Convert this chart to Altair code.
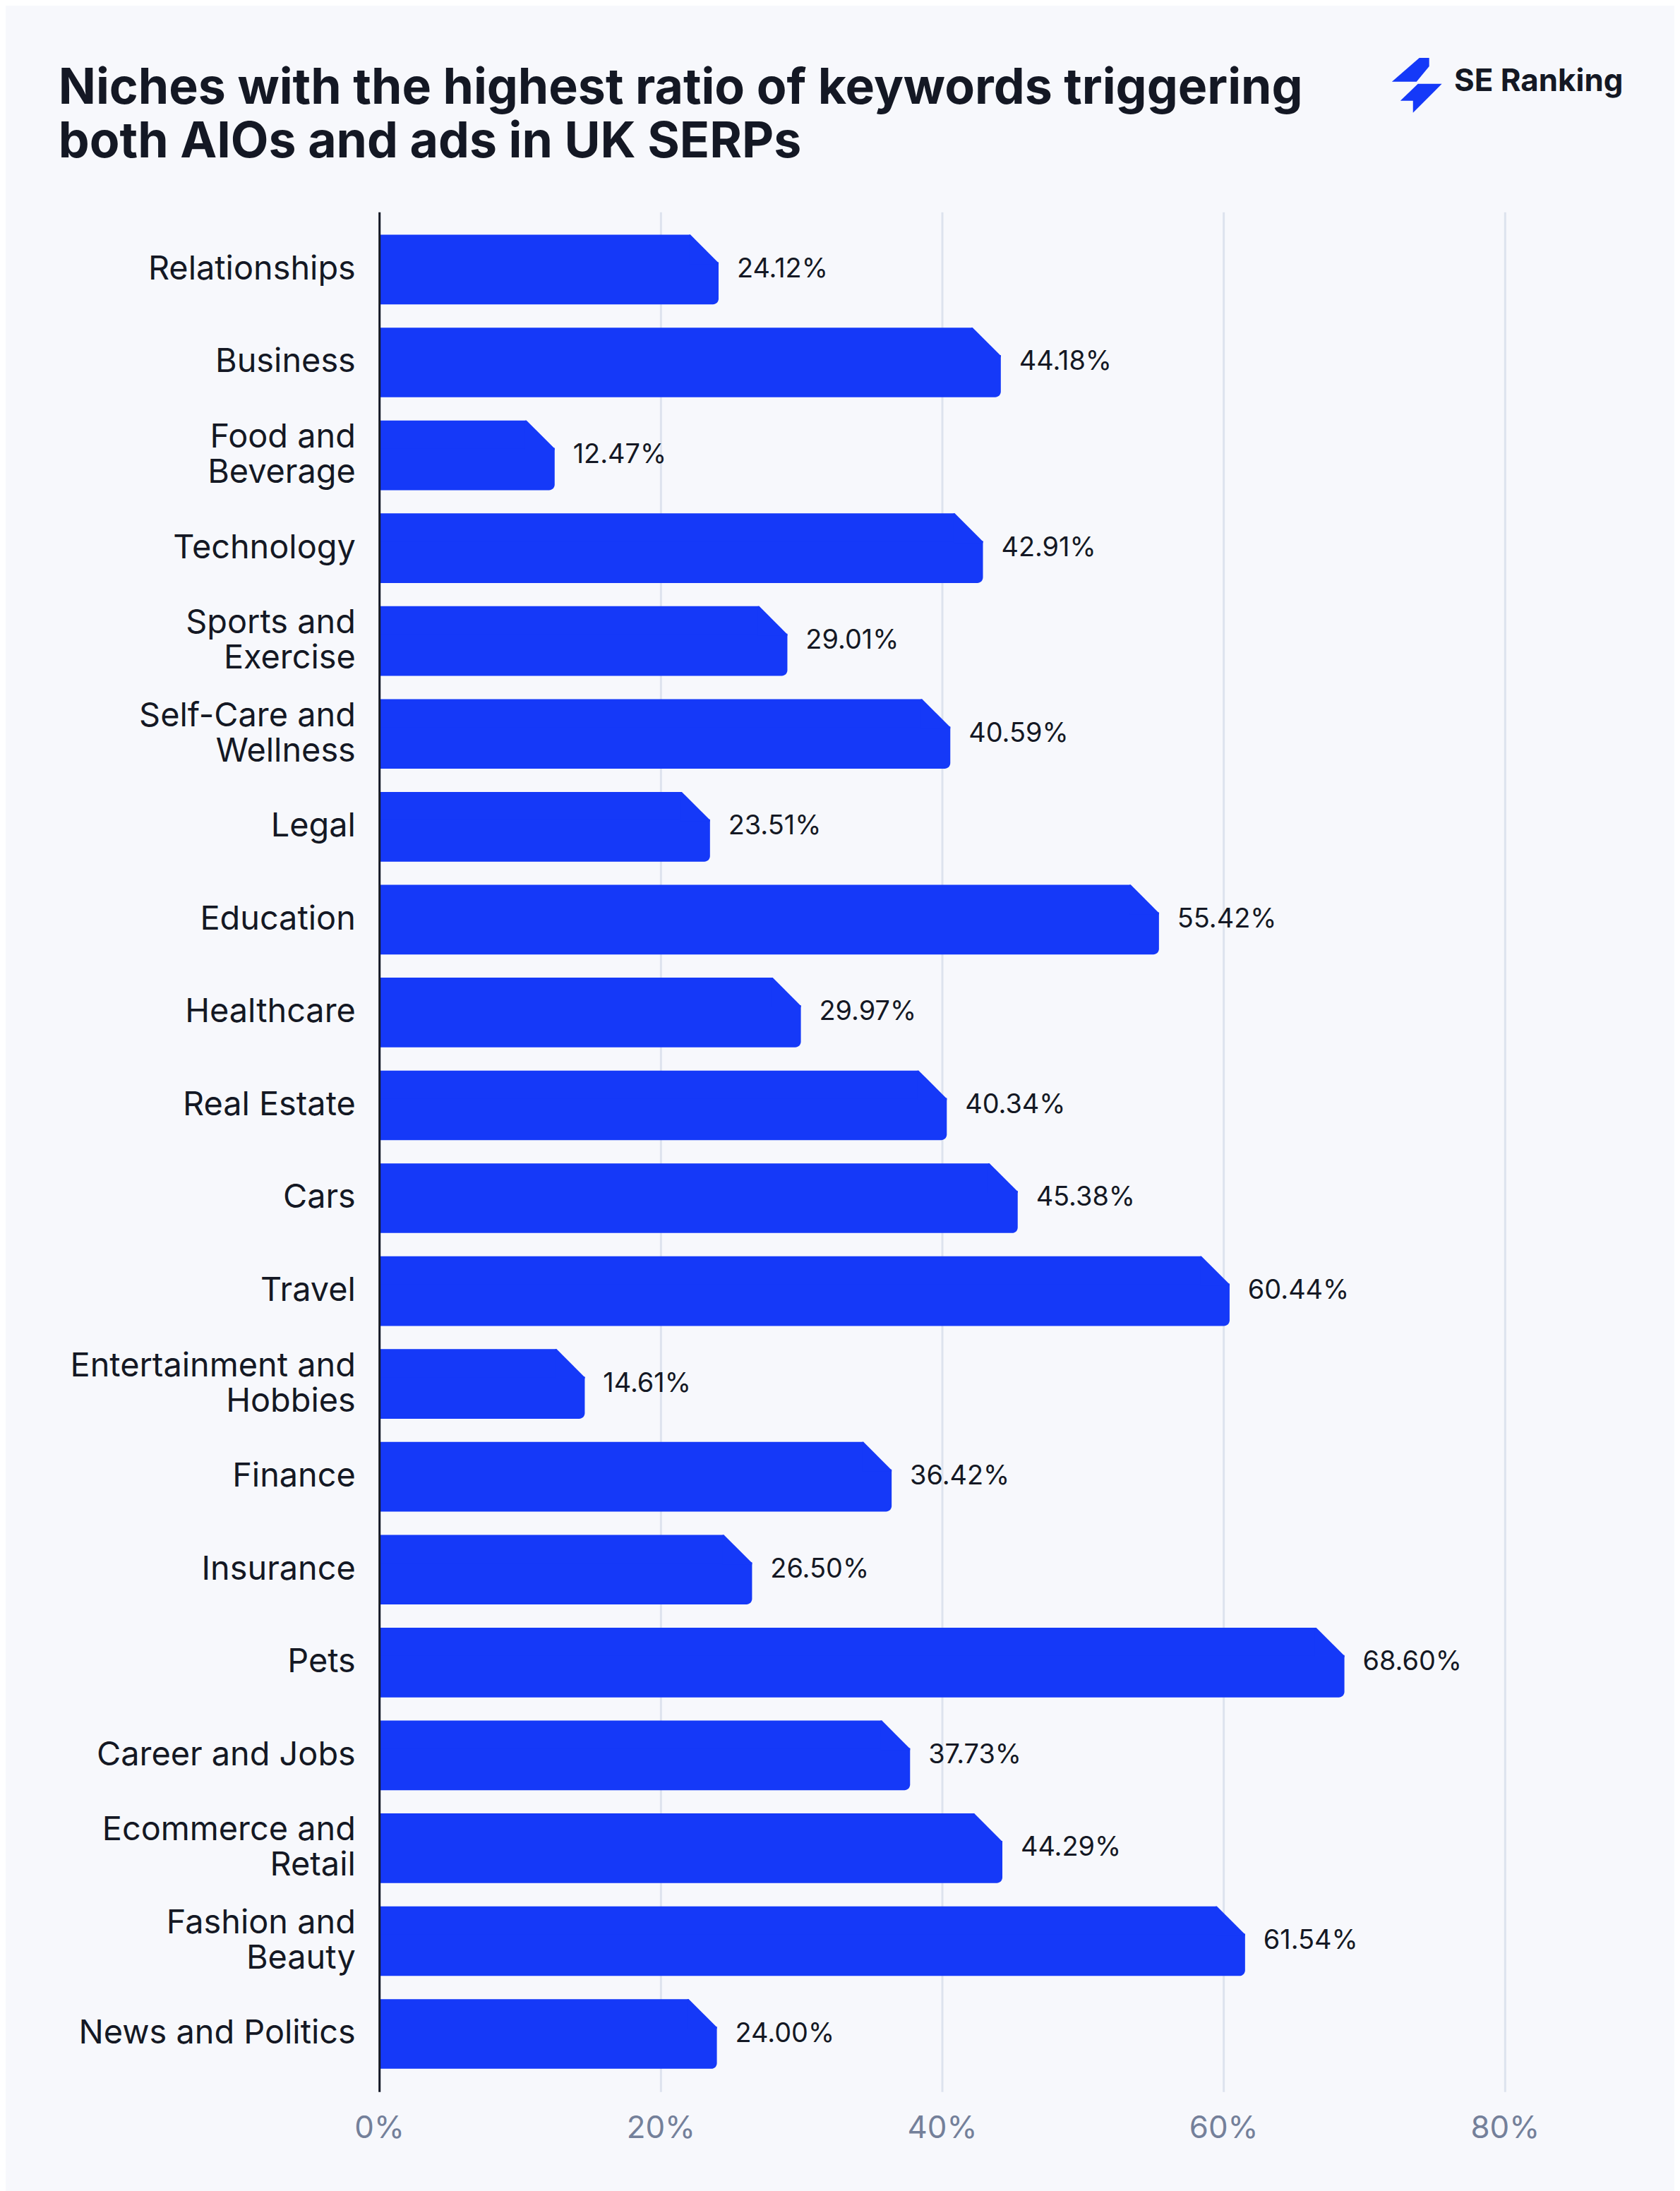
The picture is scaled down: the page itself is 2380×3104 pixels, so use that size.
import altair as alt
import pandas as pd

# ---------------- data ----------------
categories = [
    "Relationships", "Business", "Food and|Beverage", "Technology",
    "Sports and|Exercise", "Self-Care and|Wellness", "Legal", "Education",
    "Healthcare", "Real Estate", "Cars", "Travel",
    "Entertainment and|Hobbies", "Finance", "Insurance", "Pets",
    "Career and Jobs", "Ecommerce and|Retail", "Fashion and|Beauty",
    "News and Politics",
]
values = [24.12, 44.18, 12.47, 42.91, 29.01, 40.59, 23.51, 55.42, 29.97, 40.34,
          45.38, 60.44, 14.61, 36.42, 26.50, 68.60, 37.73, 44.29, 61.54, 24.00]
x_ticks = [0, 20, 40, 60, 80]
title_lines = ["Niches with the highest ratio of keywords triggering",
               "both AIOs and ads in UK SERPs"]
brand = ["SE Ranking"]

# ---------------- style ----------------
BLUE = "#1539F8"
BG = "#F7F8FC"
INK = "#141824"
GRID = "#DDE3EE"
MUTED = "#74809A"
FONT = "Inter"

W, H = 1600, 2672
BAR = 99        # bar thickness (px)
CUT = 40        # chamfer size (px)

LOGO = ("M 0.0875 -0.975 L 0.4375 -0.975 L 0.4375 -0.675 L -0.0125 -0.125 "
        "L -0.8875 -0.125 Z "
        "M 0.0375 -0.05 L 0.8875 -0.05 L -0.1375 0.975 L -0.1375 0.55 "
        "L -0.5875 0.55 Z")
TRI = "M -1.1 -1 L -1 -1 L 1 1 L 1 1.1 L -1.1 1.1 Z"

df = pd.DataFrame({"niche": categories, "value": values})

y_enc = alt.Y(
    "niche:N", sort=categories,
    scale=alt.Scale(paddingInner=0.242, paddingOuter=0.242),
    axis=alt.Axis(title=None, labelExpr="split(datum.label, '|')",
                  labelFont=FONT, labelFontSize=47, labelColor=INK,
                  labelLineHeight=50, labelPadding=34, ticks=False, tickSize=0,
                  labelOffset={"condition": {"test": "indexof(datum.label, '|') >= 0",
                                             "value": -25}, "value": 0},
                  domain=True, domainColor=INK, domainWidth=3, grid=False,
                  labelLimit=700, zindex=1),
)
x_enc = alt.X(
    "value:Q", scale=alt.Scale(domain=[0, 80], nice=False),
    axis=alt.Axis(title=None, values=x_ticks, labelExpr="datum.value + '%'",
                  grid=True, gridColor=GRID, gridWidth=3, domain=False,
                  ticks=False, tickSize=0, labelFont=FONT, labelFontSize=44,
                  labelColor=MUTED, labelPadding=30, labelFlush=False, zindex=0),
)

base = alt.Chart(df)

# lower (full-length) part of each bar
bar_low = base.mark_bar(color=BLUE, height=BAR - CUT + 1, yOffset=CUT / 2 - 0.5,
                        cornerRadiusBottomRight=8).encode(
    y=y_enc, x=x_enc, x2=alt.datum(0))
# upper strip, shortened by the chamfer
bar_top = base.mark_bar(color=BLUE, height=CUT, yOffset=-BAR / 2 + CUT / 2,
                        xOffset=-CUT).encode(
    y=alt.Y("niche:N", sort=categories), x=alt.X("value:Q"), x2=alt.datum(0))
# 45-degree chamfer piece
tri = base.mark_point(shape=TRI, size=CUT * CUT, filled=True, color=BLUE,
                      opacity=1, xOffset=-CUT / 2,
                      yOffset=-BAR / 2 + CUT / 2).encode(
    y=alt.Y("niche:N", sort=categories), x=alt.X("value:Q"))

labels = base.transform_calculate(
    label="format(datum.value, '.2f') + '%'"
).mark_text(align="left", baseline="middle", dx=26, font=FONT, fontSize=38,
            color=INK).encode(
    y=alt.Y("niche:N", sort=categories), x=alt.X("value:Q"), text="label:N")

title = alt.Chart(pd.DataFrame({"t": ["\n".join(title_lines)]})).mark_text(
    lineBreak="\n", align="left", baseline="alphabetic", font=FONT,
    fontSize=70, fontWeight="bold", lineHeight=76, color=INK,
).encode(text="t:N", x=alt.value(83 - 539), y=alt.value(142 - 296))

logo = alt.Chart(pd.DataFrame({"b": brand})).mark_point(
    shape=LOGO, size=6400, filled=True, color=BLUE, opacity=1,
).encode(x=alt.value(2014 - 539), y=alt.value(116 - 296))

brand_txt = alt.Chart(pd.DataFrame({"b": brand})).mark_text(
    align="left", baseline="alphabetic", font=FONT, fontSize=44,
    fontWeight="bold", color=INK,
).encode(text="b:N", x=alt.value(2067 - 539), y=alt.value(124 - 296))

chart = alt.layer(bar_low, bar_top, tri, labels, title, logo, brand_txt).properties(
    width=W, height=H, autosize="none",
    padding={"left": 531, "top": 288, "right": 241, "bottom": 136},
    background=BG,
).configure_view(strokeWidth=0)

chart.save("out.html", embed_options={"renderer": "svg", "actions": False})
